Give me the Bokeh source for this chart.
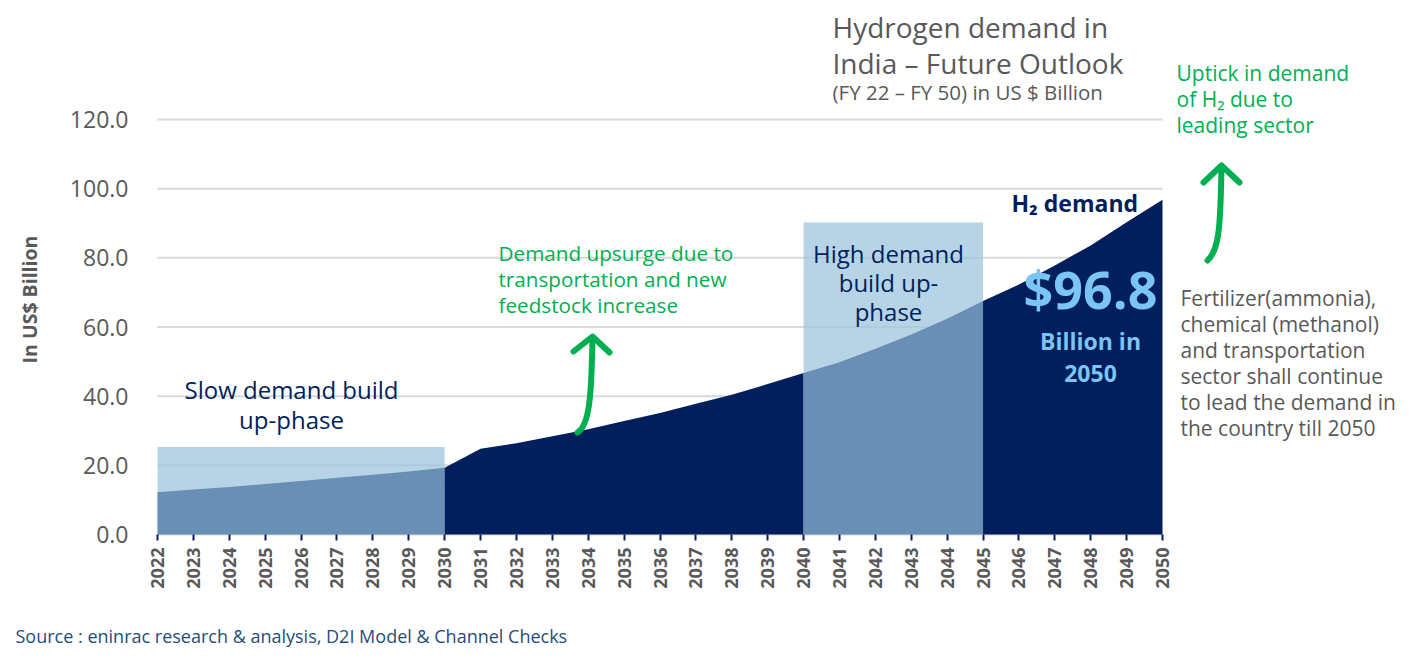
import math
from bokeh.plotting import figure
from bokeh.models import Range1d, FixedTicker, NumeralTickFormatter
from bokeh.core.properties import value
from bokeh.embed import file_html
from bokeh.resources import INLINE

# ---------------- data ----------------
years = list(range(2022, 2051))
demand = [12.2, 13.0, 13.7, 14.6, 15.5, 16.4, 17.3, 18.2, 19.3,
          24.8, 26.4, 28.4, 30.4, 32.8, 35.1, 37.8, 40.4, 43.5, 46.7,
          49.8, 53.7, 57.8, 62.4, 67.5, 72.3, 77.8, 83.6, 90.3, 96.8]
y_ticks = [0, 20, 40, 60, 80, 100, 120]
phase_start = [2022, 2040]
phase_end = [2030, 2045]
phase_top = [25.3, 90.2]

# ---------------- layout helpers (page pixels -> data) ----------------
W, H = 1405, 655
LEFT_PX, BASE_PX = 157, 534          # where 2022 and 0.0 sit on the page
YEAR_PX = (1162 - 157) / (years[-1] - years[0])
UNIT_PX = (534 - 119) / 120.0

def X(px):
    return years[0] + (px - LEFT_PX) / YEAR_PX

def Y(py):
    return (BASE_PX - py) / UNIT_PX

NAVY = "#001f5c"
OVER = "#6a8fb4"
GREEN = "#00b050"
GRAY = "#595959"
LBLUE = "#7ac5f4"
FONT = value("Open Sans")

p = figure(width=W, height=H, x_range=Range1d(X(0), X(W)),
           y_range=Range1d(Y(H), Y(0)), output_backend="svg",
           toolbar_location=None, min_border=0, title=None)
p.outline_line_color = None
p.xgrid.visible = False
p.ygrid.visible = False
p.background_fill_color = "white"
p.border_fill_color = "white"

# grid lines limited to the data span
p.segment(x0=[years[0]] * len(y_ticks), x1=[years[-1]] * len(y_ticks),
          y0=y_ticks, y1=y_ticks, line_color="#d9d9d9", line_width=2)

# phase boxes
p.quad(left=phase_start, right=phase_end, bottom=[0, 0], top=phase_top,
       fill_color="#9fc6de", fill_alpha=0.75, line_color=None)

# area, split by phase
bounds = sorted(set([years[0], years[-1]] + phase_start + phase_end))
for a, b in zip(bounds[:-1], bounds[1:]):
    xs = [yr for yr in years if a <= yr <= b]
    ys = [d for yr, d in zip(years, demand) if a <= yr <= b]
    mid = (a + b) / 2
    col = OVER if any(s <= mid <= e for s, e in zip(phase_start, phase_end)) else NAVY
    p.varea(x=xs, y1=[0] * len(xs), y2=ys, fill_color=col)

# axes, pinned to the data origin
p.yaxis.fixed_location = years[0]
p.yaxis.ticker = FixedTicker(ticks=y_ticks)
p.yaxis.formatter = NumeralTickFormatter(format="0.0")
p.yaxis.axis_line_color = None
p.yaxis.major_tick_line_color = None
p.yaxis.minor_tick_line_color = None
p.yaxis.major_tick_out = 0
p.yaxis.major_tick_in = 0
p.yaxis.major_label_standoff = 29
p.yaxis.major_label_text_font = "Open Sans"
p.yaxis.major_label_text_font_size = "23px"
p.yaxis.major_label_text_color = GRAY

p.xaxis.fixed_location = 0
p.xaxis.ticker = FixedTicker(ticks=years)
p.xaxis.formatter = NumeralTickFormatter(format="0")
p.xaxis.axis_line_color = None
p.xaxis.major_tick_line_color = NAVY
p.xaxis.major_tick_line_width = 2
p.xaxis.major_tick_out = 6
p.xaxis.major_tick_in = 0
p.xaxis.minor_tick_line_color = None
p.xaxis.major_label_orientation = math.pi / 2
p.xaxis.major_label_standoff = 7
p.xaxis.major_label_text_font = "Open Sans"
p.xaxis.major_label_text_font_style = "bold"
p.xaxis.major_label_text_font_size = "18px"
p.xaxis.major_label_text_color = GRAY

# arrows
def arrow(tail, c1, c2, tip, left, right):
    p.bezier(x0=[X(tail[0])], y0=[Y(tail[1])], x1=[X(tip[0])], y1=[Y(tip[1])],
             cx0=[X(c1[0])], cy0=[Y(c1[1])], cx1=[X(c2[0])], cy1=[Y(c2[1])],
             line_color=GREEN, line_width=6, line_cap="round")
    p.line(x=[X(left[0]), X(tip[0]), X(right[0])],
           y=[Y(left[1]), Y(tip[1] - 1), Y(right[1])],
           line_color=GREEN, line_width=6, line_cap="round", line_join="round")

arrow((577, 432), (589, 425), (591, 395), (592, 337), (573, 351), (609, 352))
arrow((1207, 260), (1218, 250), (1220, 230), (1221, 166), (1203, 182), (1239, 182))

# texts (page baselines; small correction for how the renderer seats the baseline)
def txt(px, pys, lines, size, color, align="left", style="normal", angle=0.0,
        baseline="alphabetic"):
    shift = 0.38 * size if baseline == "alphabetic" else 0.0
    p.text(x=[X(px)] * len(lines), y=[Y(py - shift) for py in pys], text=lines,
           text_font=FONT, text_font_size=value(f"{size}px"), text_color=color,
           text_align=align, text_baseline=baseline, text_font_style=style,
           angle=angle)

txt(832, [37, 73], ["Hydrogen demand in", "India – Future Outlook"], 28, GRAY)
txt(832, [99], ["(FY 22 – FY 50) in US $ Billion"], 20.5, GRAY)
txt(1176, [80, 106, 132], ["Uptick in demand", "of H₂ due to", "leading sector"], 21, GREEN)
txt(1011, [211], ["H₂ demand"], 23, NAVY, style="bold")
txt(1090, [308], ["$96.8"], 52, LBLUE, align="center", style="bold")
txt(1090, [349, 382], ["Billion in", "2050"], 23, LBLUE, align="center", style="bold")
txt(888, [262, 291, 320], ["High demand", "build up-", "phase"], 24, NAVY, align="center")
txt(291, [398, 428], ["Slow demand build", "up-phase"], 24, NAVY, align="center")
txt(498, [260, 286, 312], ["Demand upsurge due to", "transportation and new",
                           "feedstock increase"], 20.7, GREEN)
txt(1180, [305, 331, 357, 383, 409, 435],
    ["Fertilizer(ammonia),", "chemical (methanol)", "and transportation",
     "sector shall continue", "to lead the demand in", "the country till 2050"],
    21, GRAY)
txt(29, [299], ["In US$ Billion"], 19.5, GRAY, align="center", style="bold",
    angle=math.pi / 2, baseline="middle")
txt(15, [642], ["Source : eninrac research & analysis, D2I Model & Channel Checks"],
    18, "#1f4e79")

open("out.html", "w").write(file_html(p, INLINE))
